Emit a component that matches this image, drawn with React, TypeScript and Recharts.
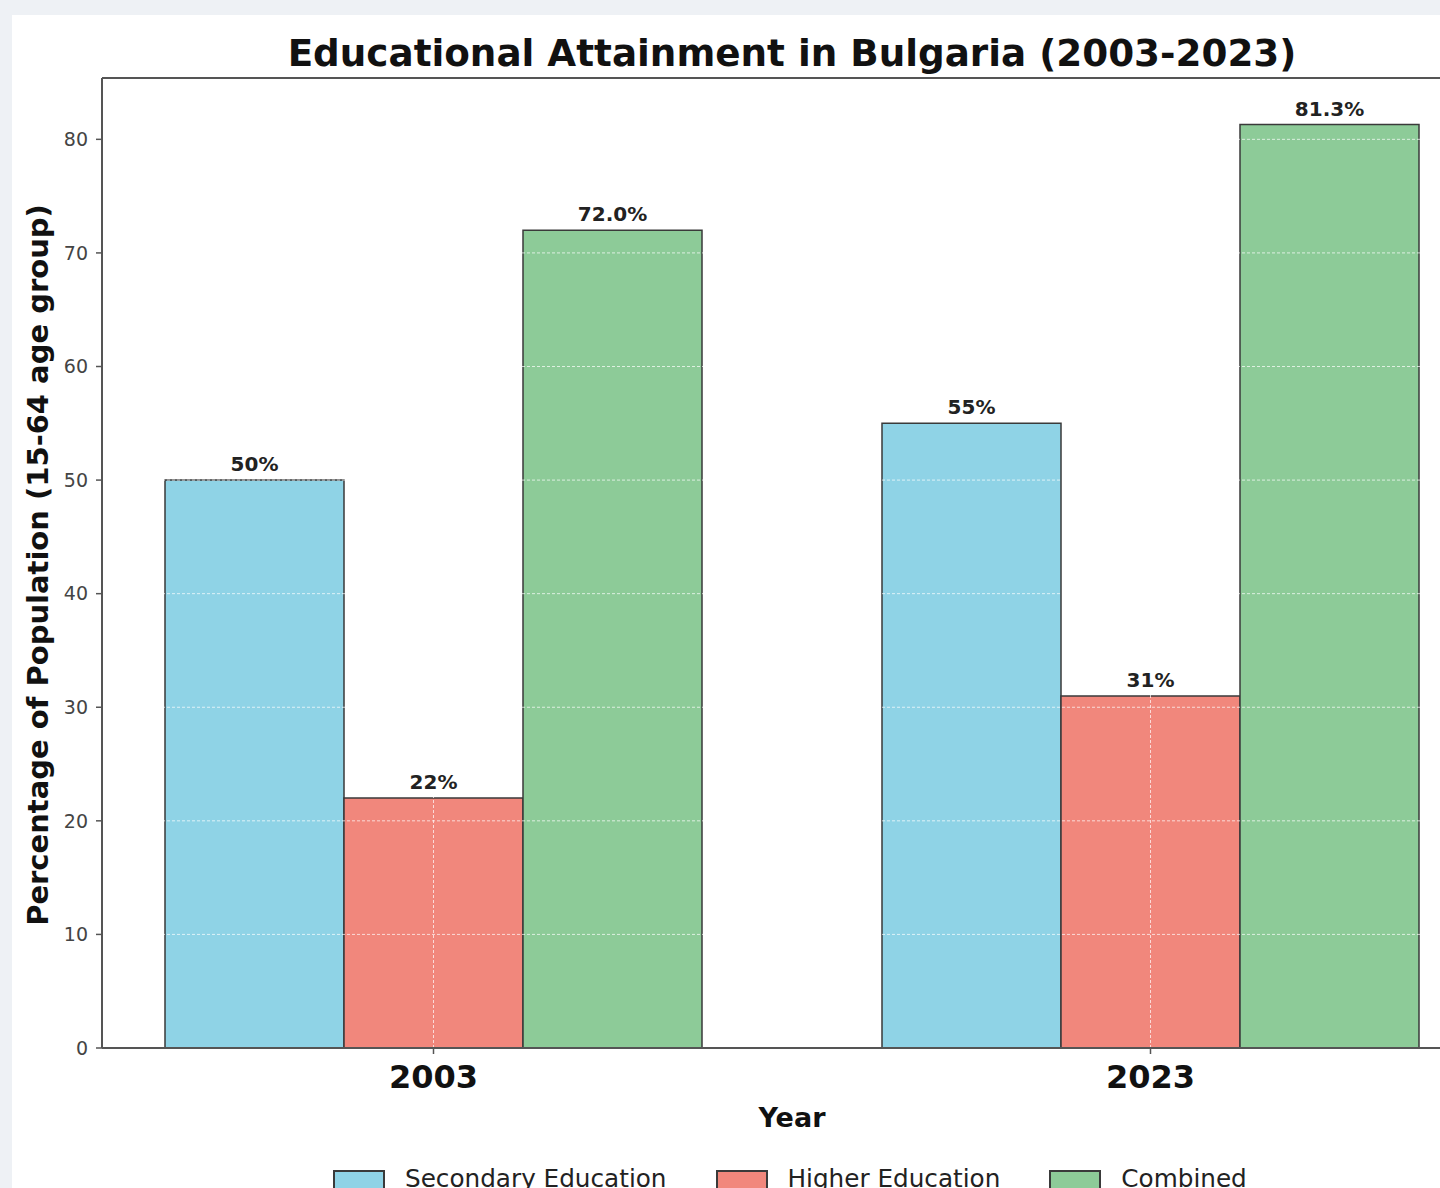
import React from "react";
import {
  BarChart,
  Bar,
  XAxis,
  YAxis,
  LabelList,
  ReferenceLine,
} from "recharts";

// ---- data ----
const years = ["2003", "2023"];
const secondaryValues = [50, 55];
const higherValues = [22, 31];
const combinedValues = [72.0, 81.3];
const secondaryLabels = ["50%", "55%"];
const higherLabels = ["22%", "31%"];
const combinedLabels = ["72.0%", "81.3%"];
const yTicks = [0, 10, 20, 30, 40, 50, 60, 70, 80];
const yMax = 85.4;

const seriesNames = ["Secondary Education", "Higher Education", "Combined"];
const seriesColors = ["#8fd3e6", "#f1877c", "#8dcb98"];

const data = years.map((y, i) => ({
  year: y,
  secondary: secondaryValues[i],
  higher: higherValues[i],
  combined: combinedValues[i],
  secondaryLabel: secondaryLabels[i],
  higherLabel: higherLabels[i],
  combinedLabel: combinedLabels[i],
}));

const FONT = "'DejaVu Sans', Verdana, sans-serif";
const EDGE = "#3a3a3a";
const SPINE = "#555";

export default function App() {
  const labelStyle = { fontSize: 20, fontWeight: 700, fill: "#222", fontFamily: FONT };
  return (
    <div
      style={{
        position: "absolute",
        left: 0,
        top: 0,
        width: 1440,
        height: 1188,
        overflow: "hidden",
        background: "#eef1f5",
        fontFamily: FONT,
      }}
    >
      <div
        style={{
          position: "absolute",
          left: 12,
          top: 15,
          width: 1500,
          height: 1300,
          background: "#ffffff",
        }}
      />
      <div style={{ position: "absolute", left: 0, top: 0 }}>
        <BarChart
          width={1500}
          height={1188}
          data={data}
          margin={{ top: 78, right: 18, left: 42, bottom: 70 }}
          barGap={0}
          barCategoryGap={90}
        >
          <XAxis
            dataKey="year"
            height={70}
            padding={{ left: -27, right: -27 }}
            axisLine={{ stroke: SPINE, strokeWidth: 2 }}
            tickLine={{ stroke: SPINE, strokeWidth: 1.5 }}
            tickSize={6}
            tickMargin={11}
            tick={{ fontSize: 32, fontWeight: 700, fill: "#111", fontFamily: FONT }}
          />
          <YAxis
            width={60}
            domain={[0, yMax]}
            ticks={yTicks}
            allowDataOverflow
            axisLine={{ stroke: SPINE, strokeWidth: 2 }}
            tickLine={{ stroke: SPINE, strokeWidth: 1.5 }}
            tickSize={6}
            tickMargin={8}
            tick={{ fontSize: 19, fill: "#444", fontFamily: FONT }}
          />
          <Bar
            dataKey="secondary"
            name={seriesNames[0]}
            fill={seriesColors[0]}
            stroke={EDGE}
            strokeWidth={1.5}
            isAnimationActive={false}
          >
            <LabelList dataKey="secondaryLabel" position="top" offset={9} style={labelStyle} />
          </Bar>
          <Bar
            dataKey="higher"
            name={seriesNames[1]}
            fill={seriesColors[1]}
            stroke={EDGE}
            strokeWidth={1.5}
            isAnimationActive={false}
          >
            <LabelList dataKey="higherLabel" position="top" offset={9} style={labelStyle} />
          </Bar>
          <Bar
            dataKey="combined"
            name={seriesNames[2]}
            fill={seriesColors[2]}
            stroke={EDGE}
            strokeWidth={1.5}
            isAnimationActive={false}
          >
            <LabelList dataKey="combinedLabel" position="top" offset={9} style={labelStyle} />
          </Bar>
          {yTicks.slice(1).map((t) => (
            <ReferenceLine
              key={"gy" + t}
              y={t}
              stroke="#ffffff"
              strokeOpacity={0.7}
              strokeDasharray="3 2"
              strokeWidth={1}
            />
          ))}
          {years.map((y) => (
            <ReferenceLine
              key={"gx" + y}
              x={y}
              stroke="#ffffff"
              strokeOpacity={0.7}
              strokeDasharray="3 2"
              strokeWidth={1}
            />
          ))}
          <ReferenceLine y={yMax} stroke={SPINE} strokeWidth={2} ifOverflow="visible" />
        </BarChart>
      </div>
      {/* Title */}
      <div
        style={{
          position: "absolute",
          left: 0,
          width: 1584,
          top: 35,
          textAlign: "center",
          fontSize: 37.3,
          lineHeight: 1,
          fontWeight: 700,
          color: "#111",
          whiteSpace: "nowrap",
        }}
      >
        Educational Attainment in Bulgaria (2003-2023)
      </div>
      {/* Y label */}
      <div
        style={{
          position: "absolute",
          left: 38,
          top: 565,
          transform: "translate(-50%, -50%) rotate(-90deg)",
          fontSize: 29,
          lineHeight: 1,
          fontWeight: 700,
          color: "#111",
          whiteSpace: "nowrap",
        }}
      >
        Percentage of Population (15-64 age group)
      </div>
      {/* X label */}
      <div
        style={{
          position: "absolute",
          left: 0,
          width: 1584,
          top: 1104,
          textAlign: "center",
          fontSize: 27,
          lineHeight: 1,
          fontWeight: 700,
          color: "#111",
        }}
      >
        Year
      </div>
      {/* Legend */}
      <div
        style={{
          position: "absolute",
          left: 333,
          top: 1167,
          display: "flex",
          alignItems: "flex-start",
          fontSize: 24.7,
          lineHeight: 1,
          color: "#222",
          whiteSpace: "nowrap",
        }}
      >
        {seriesNames.map((n, i) => (
          <div
            key={n}
            style={{ display: "flex", alignItems: "flex-start", marginRight: i < 2 ? 49 : 0 }}
          >
            <div
              style={{
                width: 48,
                height: 17,
                marginTop: 3,
                background: seriesColors[i],
                border: `2px solid ${EDGE}`,
                marginRight: 20,
              }}
            />
            <span>{n}</span>
          </div>
        ))}
      </div>
    </div>
  );
}
